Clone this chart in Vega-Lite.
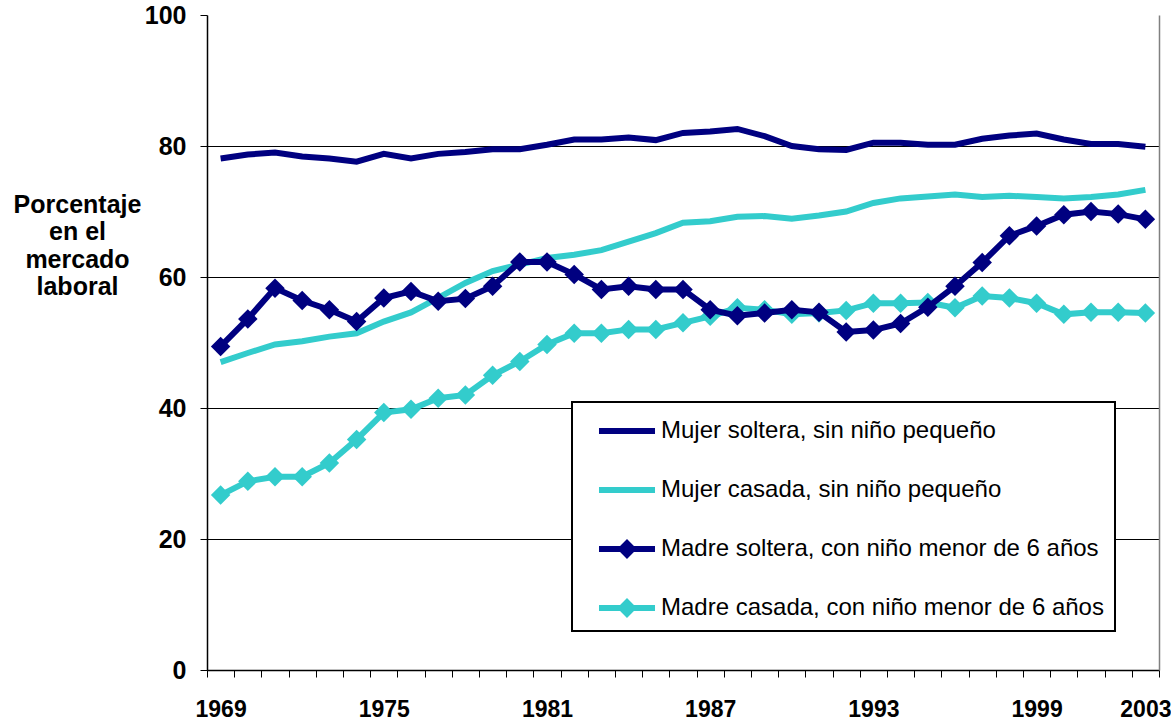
{
  "$schema": "https://vega.github.io/schema/vega-lite/v6.json",
  "width": 952,
  "height": 655,
  "autosize": "none",
  "padding": {"left": 207, "top": 15, "right": 12, "bottom": 56},
  "background": "white",
  "data": {
    "values": [
      {"year": 1969, "Mujer soltera, sin niño pequeño": 78.1, "Mujer casada, sin niño pequeño": 47.0, "Madre soltera, con niño menor de 6 años": 49.4, "Madre casada, con niño menor de 6 años": 26.7},
      {"year": 1970, "Mujer soltera, sin niño pequeño": 78.7, "Mujer casada, sin niño pequeño": 48.4, "Madre soltera, con niño menor de 6 años": 53.6, "Madre casada, con niño menor de 6 años": 28.8},
      {"year": 1971, "Mujer soltera, sin niño pequeño": 79.0, "Mujer casada, sin niño pequeño": 49.7, "Madre soltera, con niño menor de 6 años": 58.3, "Madre casada, con niño menor de 6 años": 29.5},
      {"year": 1972, "Mujer soltera, sin niño pequeño": 78.4, "Mujer casada, sin niño pequeño": 50.2, "Madre soltera, con niño menor de 6 años": 56.4, "Madre casada, con niño menor de 6 años": 29.5},
      {"year": 1973, "Mujer soltera, sin niño pequeño": 78.1, "Mujer casada, sin niño pequeño": 50.9, "Madre soltera, con niño menor de 6 años": 55.0, "Madre casada, con niño menor de 6 años": 31.6},
      {"year": 1974, "Mujer soltera, sin niño pequeño": 77.6, "Mujer casada, sin niño pequeño": 51.4, "Madre soltera, con niño menor de 6 años": 53.2, "Madre casada, con niño menor de 6 años": 35.2},
      {"year": 1975, "Mujer soltera, sin niño pequeño": 78.8, "Mujer casada, sin niño pequeño": 53.2, "Madre soltera, con niño menor de 6 años": 56.8, "Madre casada, con niño menor de 6 años": 39.3},
      {"year": 1976, "Mujer soltera, sin niño pequeño": 78.1, "Mujer casada, sin niño pequeño": 54.6, "Madre soltera, con niño menor de 6 años": 57.8, "Madre casada, con niño menor de 6 años": 39.8},
      {"year": 1977, "Mujer soltera, sin niño pequeño": 78.8, "Mujer casada, sin niño pequeño": 56.8, "Madre soltera, con niño menor de 6 años": 56.3, "Madre casada, con niño menor de 6 años": 41.5},
      {"year": 1978, "Mujer soltera, sin niño pequeño": 79.1, "Mujer casada, sin niño pequeño": 59.1, "Madre soltera, con niño menor de 6 años": 56.7, "Madre casada, con niño menor de 6 años": 42.0},
      {"year": 1979, "Mujer soltera, sin niño pequeño": 79.5, "Mujer casada, sin niño pequeño": 60.9, "Madre soltera, con niño menor de 6 años": 58.6, "Madre casada, con niño menor de 6 años": 45.0},
      {"year": 1980, "Mujer soltera, sin niño pequeño": 79.5, "Mujer casada, sin niño pequeño": 61.9, "Madre soltera, con niño menor de 6 años": 62.3, "Madre casada, con niño menor de 6 años": 47.1},
      {"year": 1981, "Mujer soltera, sin niño pequeño": 80.2, "Mujer casada, sin niño pequeño": 62.9, "Madre soltera, con niño menor de 6 años": 62.3, "Madre casada, con niño menor de 6 años": 49.7},
      {"year": 1982, "Mujer soltera, sin niño pequeño": 81.0, "Mujer casada, sin niño pequeño": 63.4, "Madre soltera, con niño menor de 6 años": 60.4, "Madre casada, con niño menor de 6 años": 51.4},
      {"year": 1983, "Mujer soltera, sin niño pequeño": 81.0, "Mujer casada, sin niño pequeño": 64.1, "Madre soltera, con niño menor de 6 años": 58.1, "Madre casada, con niño menor de 6 años": 51.4},
      {"year": 1984, "Mujer soltera, sin niño pequeño": 81.3, "Mujer casada, sin niño pequeño": 65.4, "Madre soltera, con niño menor de 6 años": 58.6, "Madre casada, con niño menor de 6 años": 52.0},
      {"year": 1985, "Mujer soltera, sin niño pequeño": 80.9, "Mujer casada, sin niño pequeño": 66.7, "Madre soltera, con niño menor de 6 años": 58.1, "Madre casada, con niño menor de 6 años": 52.0},
      {"year": 1986, "Mujer soltera, sin niño pequeño": 82.0, "Mujer casada, sin niño pequeño": 68.3, "Madre soltera, con niño menor de 6 años": 58.1, "Madre casada, con niño menor de 6 años": 53.0},
      {"year": 1987, "Mujer soltera, sin niño pequeño": 82.2, "Mujer casada, sin niño pequeño": 68.5, "Madre soltera, con niño menor de 6 años": 55.0, "Madre casada, con niño menor de 6 años": 54.0},
      {"year": 1988, "Mujer soltera, sin niño pequeño": 82.6, "Mujer casada, sin niño pequeño": 69.2, "Madre soltera, con niño menor de 6 años": 54.1, "Madre casada, con niño menor de 6 años": 55.3},
      {"year": 1989, "Mujer soltera, sin niño pequeño": 81.5, "Mujer casada, sin niño pequeño": 69.3, "Madre soltera, con niño menor de 6 años": 54.5, "Madre casada, con niño menor de 6 años": 55.0},
      {"year": 1990, "Mujer soltera, sin niño pequeño": 80.0, "Mujer casada, sin niño pequeño": 68.9, "Madre soltera, con niño menor de 6 años": 55.0, "Madre casada, con niño menor de 6 años": 54.3},
      {"year": 1991, "Mujer soltera, sin niño pequeño": 79.5, "Mujer casada, sin niño pequeño": 69.4, "Madre soltera, con niño menor de 6 años": 54.6, "Madre casada, con niño menor de 6 años": 54.5},
      {"year": 1992, "Mujer soltera, sin niño pequeño": 79.4, "Mujer casada, sin niño pequeño": 70.0, "Madre soltera, con niño menor de 6 años": 51.6, "Madre casada, con niño menor de 6 años": 54.9},
      {"year": 1993, "Mujer soltera, sin niño pequeño": 80.5, "Mujer casada, sin niño pequeño": 71.3, "Madre soltera, con niño menor de 6 años": 51.9, "Madre casada, con niño menor de 6 años": 56.0},
      {"year": 1994, "Mujer soltera, sin niño pequeño": 80.5, "Mujer casada, sin niño pequeño": 72.0, "Madre soltera, con niño menor de 6 años": 52.9, "Madre casada, con niño menor de 6 años": 56.0},
      {"year": 1995, "Mujer soltera, sin niño pequeño": 80.2, "Mujer casada, sin niño pequeño": 72.3, "Madre soltera, con niño menor de 6 años": 55.4, "Madre casada, con niño menor de 6 años": 56.1},
      {"year": 1996, "Mujer soltera, sin niño pequeño": 80.2, "Mujer casada, sin niño pequeño": 72.6, "Madre soltera, con niño menor de 6 años": 58.6, "Madre casada, con niño menor de 6 años": 55.3},
      {"year": 1997, "Mujer soltera, sin niño pequeño": 81.1, "Mujer casada, sin niño pequeño": 72.2, "Madre soltera, con niño menor de 6 años": 62.2, "Madre casada, con niño menor de 6 años": 57.1},
      {"year": 1998, "Mujer soltera, sin niño pequeño": 81.6, "Mujer casada, sin niño pequeño": 72.4, "Madre soltera, con niño menor de 6 años": 66.3, "Madre casada, con niño menor de 6 años": 56.8},
      {"year": 1999, "Mujer soltera, sin niño pequeño": 81.9, "Mujer casada, sin niño pequeño": 72.2, "Madre soltera, con niño menor de 6 años": 67.8, "Madre casada, con niño menor de 6 años": 56.0},
      {"year": 2000, "Mujer soltera, sin niño pequeño": 81.0, "Mujer casada, sin niño pequeño": 72.0, "Madre soltera, con niño menor de 6 años": 69.5, "Madre casada, con niño menor de 6 años": 54.3},
      {"year": 2001, "Mujer soltera, sin niño pequeño": 80.3, "Mujer casada, sin niño pequeño": 72.2, "Madre soltera, con niño menor de 6 años": 70.0, "Madre casada, con niño menor de 6 años": 54.6},
      {"year": 2002, "Mujer soltera, sin niño pequeño": 80.3, "Mujer casada, sin niño pequeño": 72.6, "Madre soltera, con niño menor de 6 años": 69.6, "Madre casada, con niño menor de 6 años": 54.6},
      {"year": 2003, "Mujer soltera, sin niño pequeño": 79.9, "Mujer casada, sin niño pequeño": 73.3, "Madre soltera, con niño menor de 6 años": 68.8, "Madre casada, con niño menor de 6 años": 54.5}
    ]
  },
  "transform": [
    {"fold": ["Mujer soltera, sin niño pequeño", "Mujer casada, sin niño pequeño", "Madre casada, con niño menor de 6 años", "Madre soltera, con niño menor de 6 años"], "as": ["series", "value"]}
  ],
  "encoding": {
    "x": {
      "field": "year",
      "type": "ordinal",
      "scale": {"type": "band", "paddingInner": 0, "paddingOuter": 0},
      "axis": {
        "title": null,
        "grid": false,
        "domainColor": "black",
        "domainWidth": 1.5,
        "tickColor": "black",
        "tickSize": 7,
        "tickWidth": 1,
        "tickBand": "extent",
        "labelAngle": 0,
        "labelFont": "Liberation Sans",
        "labelFontSize": 23,
        "labelFontWeight": "bold",
        "labelColor": "black",
        "labelPadding": 21,
        "labelDx": -5,
        "labelOverlap": false,
        "labelBound": false,
        "labelExpr": "(datum.value - 1969) % 6 == 0 || datum.value == 2003 ? datum.label : ''"
      }
    }
  },
  "layer": [
    {
      "transform": [{"filter": {"field": "series", "equal": "Mujer soltera, sin niño pequeño"}}],
      "mark": {"type": "line", "strokeWidth": 6, "color": "#000080"},
      "encoding": {
        "y": {
          "field": "value",
          "type": "quantitative",
          "scale": {"domain": [0, 100], "nice": false},
          "axis": {
            "orient": "left",
            "values": [0, 20, 40, 60, 80, 100],
            "title": ["Porcentaje", "en el", "mercado", "laboral"],
            "titleAngle": 0,
            "titleAlign": "center",
            "titleBaseline": "top",
            "titleX": -130,
            "titleY": 177,
            "titleFont": "Liberation Sans",
            "titleFontSize": 25,
            "titleFontWeight": "bold",
            "titleColor": "black",
            "titleLineHeight": 27.5,
            "labelFont": "Liberation Sans",
            "labelFontSize": 25,
            "labelFontWeight": "bold",
            "labelColor": "black",
            "labelPadding": 14,
            "tickSize": 7,
            "tickColor": "black",
            "tickWidth": 1,
            "domainColor": "black",
            "domainWidth": 1.5,
            "grid": true,
            "gridColor": "black",
            "gridWidth": 1,
            "gridOpacity": {"condition": {"test": "datum.value >= 100", "value": 0}, "value": 1}
          }
        }
      }
    },
    {
      "transform": [{"filter": {"field": "series", "equal": "Mujer casada, sin niño pequeño"}}],
      "mark": {"type": "line", "strokeWidth": 6, "color": "#33CCCC"},
      "encoding": {
        "y": {"field": "value", "type": "quantitative", "axis": null}
      }
    },
    {
      "transform": [{"filter": {"field": "series", "equal": "Madre casada, con niño menor de 6 años"}}],
      "mark": {"type": "line", "strokeWidth": 6, "color": "#33CCCC", "point": {"shape": "diamond", "size": 380, "filled": true, "opacity": 1, "color": "#33CCCC"}},
      "encoding": {
        "y": {"field": "value", "type": "quantitative", "axis": null}
      }
    },
    {
      "transform": [{"filter": {"field": "series", "equal": "Madre soltera, con niño menor de 6 años"}}],
      "mark": {"type": "line", "strokeWidth": 6, "color": "#000080", "point": {"shape": "diamond", "size": 380, "filled": true, "opacity": 1, "color": "#000080"}},
      "encoding": {
        "y": {"field": "value", "type": "quantitative", "axis": null}
      }
    },
    {
      "mark": {"type": "point", "filled": true, "opacity": 0},
      "encoding": {
        "y": {
          "field": "value",
          "type": "quantitative",
          "axis": {"orient": "right", "title": null, "labels": false, "ticks": false, "grid": false, "domainColor": "#808080", "domainWidth": 1.5}
        },
        "color": {
          "field": "series",
          "type": "nominal",
          "scale": {
            "domain": ["Mujer soltera, sin niño pequeño", "Mujer casada, sin niño pequeño", "Madre soltera, con niño menor de 6 años", "Madre casada, con niño menor de 6 años"],
            "range": ["#000080", "#33CCCC", "#000080", "#33CCCC"]
          },
          "legend": {
            "title": null,
            "orient": "none",
            "legendX": 365,
            "legendY": 387,
            "direction": "vertical",
            "fillColor": "white",
            "strokeColor": "black",
            "padding": 11,
            "symbolSize": 1296,
            "symbolStrokeWidth": 0,
            "symbolOpacity": 1,
            "symbolOffset": 26,
            "labelOffset": 16,
            "rowPadding": 29,
            "labelFont": "Liberation Sans",
            "labelFontSize": 24,
            "labelColor": "black",
            "labelLimit": 800
          }
        },
        "shape": {
          "field": "series",
          "type": "nominal",
          "scale": {
            "domain": ["Mujer soltera, sin niño pequeño", "Mujer casada, sin niño pequeño", "Madre soltera, con niño menor de 6 años", "Madre casada, con niño menor de 6 años"],
            "range": [
              "M-1.556,-0.17H1.556V0.17H-1.556Z",
              "M-1.556,-0.17H1.556V0.17H-1.556Z",
              "M-1.556,-0.17H1.556V0.17H-1.556Z M-0.55,0L0,-0.55L0.55,0L0,0.55Z",
              "M-1.556,-0.17H1.556V0.17H-1.556Z M-0.55,0L0,-0.55L0.55,0L0,0.55Z"
            ]
          },
          "legend": {
            "title": null,
            "orient": "none",
            "legendX": 365,
            "legendY": 387,
            "direction": "vertical",
            "fillColor": "white",
            "strokeColor": "black",
            "padding": 11,
            "symbolSize": 1296,
            "symbolStrokeWidth": 0,
            "symbolOpacity": 1,
            "symbolOffset": 26,
            "labelOffset": 16,
            "rowPadding": 29,
            "labelFont": "Liberation Sans",
            "labelFontSize": 24,
            "labelColor": "black",
            "labelLimit": 800
          }
        }
      }
    }
  ],
  "resolve": {"axis": {"y": "independent"}},
  "config": {
    "view": {"stroke": null},
    "legend": {"strokeWidth": 2}
  }
}
